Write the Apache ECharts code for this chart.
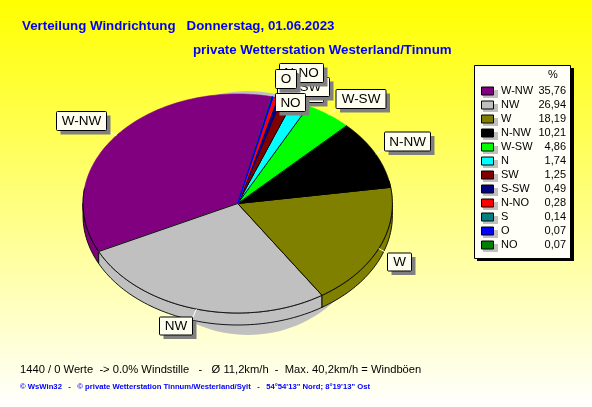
<!DOCTYPE html>
<html><head><meta charset="utf-8">
<style>html,body{margin:0;padding:0;background:#fff}#c{width:592px;height:407px}</style>
<script src="https://cdn.jsdelivr.net/npm/echarts@6/dist/echarts.min.js"></script>
</head><body><div id="c"></div>
<script>
const directions = ['W-NW','NW','W','N-NW','W-SW','N','SW','S-SW','N-NO','S','O','NO'];
const percents = [35.76,26.94,18.19,10.21,4.86,1.74,1.25,0.49,0.28,0.14,0.07,0.07];
const percentLabels = ['35,76','26,94','18,19','10,21','4,86','1,74','1,25','0,49','0,28','0,14','0,07','0,07'];
const sliceColors = ['#800080','#c0c0c0','#808000','#000000','#00ff00','#00ffff','#800000','#000080','#ff0000','#008080','#0000ff','#008000'];
const titleLine1 = 'Verteilung Windrichtung   Donnerstag, 01.06.2023';
const titleLine2 = 'private Wetterstation Westerland/Tinnum';
const footerLine1 = '1440 / 0 Werte  -> 0.0% Windstille   -   Ø 11,2km/h  -  Max. 40,2km/h = Windböen';
const footerLine2 = '© WsWin32   -   © private Wetterstation Tinnum/Westerland/Sylt   -   54°54\'13" Nord; 8°19\'13" Ost';

// pie geometry (tilted ellipse)
const PIE = {cx:237.7, cy:203.5, rx:154.7, ry:109.5, depth:12, startDeg:77.3};
// label boxes: x, y, w, h, leader end x, leader end y (null = no visible leader)
const labelBoxes = {
  'W-NW':[56.5,111.5,50,19,110,132], 'NW':[159.5,317,33,18,193,317], 'W':[387.5,253,24,18,385,252],
  'N-NW':[384.5,132,46,19,384,150], 'W-SW':[336,89.5,50,19,335,110], 'N':[283.5,90,21,18,null,null],
  'SW':[293.5,84.5,30,18,null,null], 'S-SW':[277.5,77.5,52,19,null,null], 'N-NO':[279.5,63.5,44,19,null,null],
  'S':[276.5,70.5,18,18,null,null], 'O':[275.5,69.5,21,19,null,null], 'NO':[275.5,93.5,30,18,null,null]
};
// the blue O sliver is painted last of the thin slices, as it dominates in the picture
const paintOrder = [0,1,2,3,4,5,6,7,9,11,8,10];

const total = percents.reduce((a,b)=>a+b,0);
let acc = 0;
const sliceData = percents.map((v,i)=>{const s=acc; acc+=v; return [s,v,i];});
const toDeg = p => PIE.startDeg + p/total*360;
const pt = (deg,dy=0)=>{const a=deg*Math.PI/180;return [PIE.cx+PIE.rx*Math.cos(a), PIE.cy-PIE.ry*Math.sin(a)+dy];};
function arc(a0,a1,dy){const out=[];const n=Math.max(1,Math.ceil((a1-a0)/1.5));for(let k=0;k<=n;k++)out.push(pt(a0+(a1-a0)*k/n,dy));return out;}

function renderTop(params,api){
  const a0=toDeg(api.value(0)),a1=toDeg(api.value(0)+api.value(1)),i=api.value(2),v=api.value(1);
  const C=sliceColors[i];
  const centre=[PIE.cx,PIE.cy];
  const kids=[{type:'polygon',shape:{points:[centre,...arc(a0,a1,0)]},style:{fill:C,stroke:C,lineWidth:0.6}}];
  // dividers: black for real slices, own colour for the slivers
  const divider = v>=1 ? '#000' : C;
  kids.push({type:'polyline',shape:{points:[pt(a0),centre,pt(a1)]},style:{fill:null,stroke:divider,lineWidth:v>=1?0.9:1.2}});
  // the black rim only runs round the lower part of the face
  for(const [lo,hi] of [[172,372],[532,732]]){
    const s=Math.max(a0,lo),e=Math.min(a1,hi);
    if(e>s) kids.push({type:'polyline',shape:{points:arc(s,e,0)},style:{fill:null,stroke:'#000',lineWidth:0.9}});
  }
  return {type:'group',children:kids};
}
function renderWall(params,api){
  const a0=toDeg(api.value(0)),a1=toDeg(api.value(0)+api.value(1)),i=api.value(2);
  const kids=[];
  for(const [lo,hi] of [[180,360],[540,720]]){
    const s=Math.max(a0,lo),e=Math.min(a1,hi);
    if(e>s){
      const top=arc(s,e,0),bot=arc(s,e,PIE.depth).reverse();
      kids.push({type:'polygon',shape:{points:[...top,...bot]},style:{fill:sliceColors[i],stroke:'#000',lineWidth:0.9}});
    }
  }
  return {type:'group',children:kids};
}
function renderShadow(){
  return {type:'ellipse',shape:{cx:248,cy:213,rx:125,ry:122},style:{fill:'#c0c0c0'}};
}

const graphics=[];
// leader lines
sliceData.forEach(([s,v,i])=>{
  const b=labelBoxes[directions[i]];
  if(b[4]===null) return;
  const p=pt(toDeg(s+v/2));
  graphics.push({type:'line',z:5,shape:{x1:p[0],y1:p[1],x2:b[4],y2:b[5]},style:{stroke:'#fff',lineWidth:1}});
});
// label boxes, small slices underneath in stacking order
const labelOrder=['N','SW','S-SW','N-NO','S','O','NO','W-SW','N-NW','W','NW','W-NW'];
labelOrder.forEach((name,idx)=>{
  const b=labelBoxes[name];
  graphics.push({type:'rect',z:6,z2:idx*3,shape:{x:b[0]+4,y:b[1]+4,width:b[2],height:b[3]},style:{fill:'#808080'}});
  graphics.push({type:'rect',z:6,z2:idx*3+1,shape:{x:b[0],y:b[1],width:b[2],height:b[3],r:1},style:{fill:'#fffff0',stroke:'#000',lineWidth:1}});
  graphics.push({type:'text',z:6,z2:idx*3+2,x:b[0]+b[2]/2,y:b[1]+b[3]/2+0.5,style:{text:name,font:'13.5px "Liberation Sans"',fill:'#000',align:'center',verticalAlign:'middle'}});
});
// legend panel
graphics.push({type:'rect',z:7,shape:{x:477,y:68,width:97,height:193},style:{fill:'#000'}});
graphics.push({type:'rect',z:7,z2:1,shape:{x:474.5,y:65.5,width:96,height:193},style:{fill:'#fffff8',stroke:'#000',lineWidth:1}});
graphics.push({type:'text',z:7,z2:2,x:553,y:75,style:{text:'%',font:'11px "Liberation Sans"',fill:'#000',align:'center',verticalAlign:'middle'}});
directions.forEach((name,i)=>{
  const y=91+i*14;
  graphics.push({type:'rect',z:7,z2:2,shape:{x:483,y:y-1,width:15,height:8},style:{fill:'#c0c0c0'}});
  graphics.push({type:'rect',z:7,z2:3,shape:{x:481.5,y:y-4,width:12,height:8},style:{fill:sliceColors[i],stroke:'#000',lineWidth:1}});
  graphics.push({type:'text',z:7,z2:3,x:501,y:y,style:{text:name,font:'11px "Liberation Sans"',fill:'#000',align:'left',verticalAlign:'middle'}});
  graphics.push({type:'text',z:7,z2:3,x:566,y:y,style:{text:percentLabels[i],font:'11px "Liberation Sans"',fill:'#000',align:'right',verticalAlign:'middle'}});
});

const chart=echarts.init(document.getElementById('c'),null,{renderer:'canvas',width:592,height:407});
chart.setOption({
  animation:false,
  backgroundColor:new echarts.graphic.LinearGradient(0,0,0,1,[{offset:0,color:'#ffff00'},{offset:1,color:'#ffffff'}]),
  title:[
    {text:titleLine1,left:22,top:18,textStyle:{fontFamily:'Liberation Sans',fontWeight:'bold',fontSize:13.3,color:'#0000ff',lineHeight:16},padding:0},
    {text:titleLine2,left:193,top:42,textStyle:{fontFamily:'Liberation Sans',fontWeight:'bold',fontSize:13.3,color:'#0000ff',lineHeight:16},padding:0},
    {text:footerLine1,left:20,top:363,textStyle:{fontFamily:'Liberation Sans',fontWeight:'normal',fontSize:11.2,color:'#000',lineHeight:14},padding:0},
    {text:footerLine2,left:20,top:381,textStyle:{fontFamily:'Liberation Sans',fontWeight:'bold',fontSize:7.7,color:'#0000ff',lineHeight:12},padding:0}
  ],
  series:[
    {type:'custom',coordinateSystem:'none',z:1,silent:true,data:[[0]],renderItem:renderShadow},
    {type:'custom',coordinateSystem:'none',z:2,silent:true,data:sliceData,renderItem:renderWall},
    {type:'custom',coordinateSystem:'none',z:3,silent:true,data:paintOrder.map(i=>sliceData[i]),renderItem:renderTop}
  ],
  graphic:{elements:graphics}
});
</script></body></html>
